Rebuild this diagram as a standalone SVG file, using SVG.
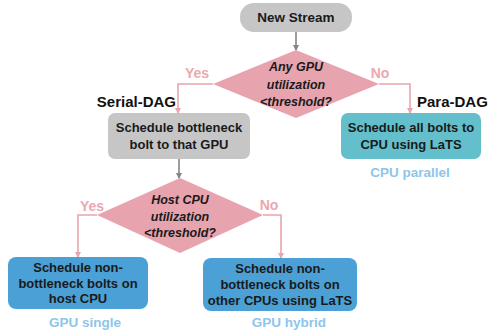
<svg xmlns="http://www.w3.org/2000/svg" width="488" height="333" viewBox="0 0 488 333">
<style>
.box{font-family:"Liberation Sans",Arial,sans-serif;font-weight:bold;font-size:13px;fill:#1a1a1a;text-anchor:middle}
.dia{font-family:"Liberation Sans",Arial,sans-serif;font-weight:bold;font-style:italic;font-size:12.5px;fill:#1a1a1a;text-anchor:middle}
.yn{font-family:"Liberation Sans",Arial,sans-serif;font-weight:bold;font-size:14px;fill:#eba8b0;text-anchor:middle}
.dag{font-family:"Liberation Sans",Arial,sans-serif;font-weight:bold;font-size:15px;fill:#111}
.lbl{font-family:"Liberation Sans",Arial,sans-serif;font-weight:bold;font-size:13.5px;fill:#8ec5ea;text-anchor:middle}
.pk{fill:none;stroke:#e9a5ad;stroke-width:1.6}
.gr{fill:none;stroke:#858585;stroke-width:1.6}
</style>
<defs>
<marker id="ap" markerWidth="6" markerHeight="6" refX="5" refY="3" orient="auto" markerUnits="userSpaceOnUse"><path d="M0,0 L6,3 L0,6 z" fill="#e9a5ad"/></marker>
<marker id="ag" markerWidth="6" markerHeight="6" refX="5" refY="3" orient="auto" markerUnits="userSpaceOnUse"><path d="M0,0 L6,3 L0,6 z" fill="#858585"/></marker>
</defs>
<rect width="488" height="333" fill="#ffffff"/>
<g id="connectors">
<path class="gr" d="M296,32 V50" marker-end="url(#ag)"/>
<path class="pk" d="M213,84 H178 V113" marker-end="url(#ap)"/>
<path class="pk" d="M379,84 H410 V113" marker-end="url(#ap)"/>
<path class="gr" d="M179,159 V178" marker-end="url(#ag)"/>
<path class="pk" d="M97,215 H78 V257" marker-end="url(#ap)"/>
<path class="pk" d="M263,215 H281 V258" marker-end="url(#ap)"/>
<text class="yn" x="197" y="78">Yes</text>
<text class="yn" x="380" y="78">No</text>
<text class="yn" x="92" y="211">Yes</text>
<text class="yn" x="269" y="210">No</text>
</g>
<g id="new-stream">
<rect x="240" y="3" width="112" height="29" rx="14" fill="#c6c6c6"/>
<text class="box" x="296" y="22" style="font-size:13.5px">New Stream</text>
</g>
<g id="gpu-check">
<polygon points="296,50 379,84 296,118 213,84" fill="#e7a4ae"/>
<text class="dia" x="296" y="71">Any GPU</text>
<text class="dia" x="296" y="89">utilization</text>
<text class="dia" x="296" y="106">&lt;threshold?</text>
</g>
<g id="serial-dag">
<text class="dag" x="176" y="107" text-anchor="end">Serial-DAG</text>
<rect x="108" y="113" width="142" height="46" rx="7" fill="#c6c6c6"/>
<text class="box" x="179" y="132">Schedule bottleneck</text>
<text class="box" x="179" y="149">bolt to that GPU</text>
</g>
<g id="para-dag">
<text class="dag" x="417" y="107">Para-DAG</text>
<rect x="341" y="113" width="140" height="46" rx="7" fill="#62bfcb"/>
<text class="box" x="411" y="132">Schedule all bolts to</text>
<text class="box" x="411" y="149">CPU using LaTS</text>
<text class="lbl" x="410" y="177">CPU parallel</text>
</g>
<g id="host-check">
<polygon points="180,178 263,215 180,253 97,215" fill="#e7a4ae"/>
<text class="dia" x="180" y="204">Host CPU</text>
<text class="dia" x="180" y="221">utilization</text>
<text class="dia" x="180" y="237">&lt;threshold?</text>
</g>
<g id="gpu-single">
<rect x="8" y="257" width="140" height="52" rx="8" fill="#4ba0d6"/>
<text class="box" x="78" y="272">Schedule non-</text>
<text class="box" x="78" y="288">bottleneck bolts on</text>
<text class="box" x="78" y="303">host CPU</text>
<text class="lbl" x="85" y="327">GPU single</text>
</g>
<g id="gpu-hybrid">
<rect x="203" y="258" width="154" height="53" rx="8" fill="#4ba0d6"/>
<text class="box" x="280" y="273">Schedule non-</text>
<text class="box" x="280" y="289">bottleneck bolts on</text>
<text class="box" x="280" y="305">other CPUs using LaTS</text>
<text class="lbl" x="289" y="327">GPU hybrid</text>
</g>
</svg>
